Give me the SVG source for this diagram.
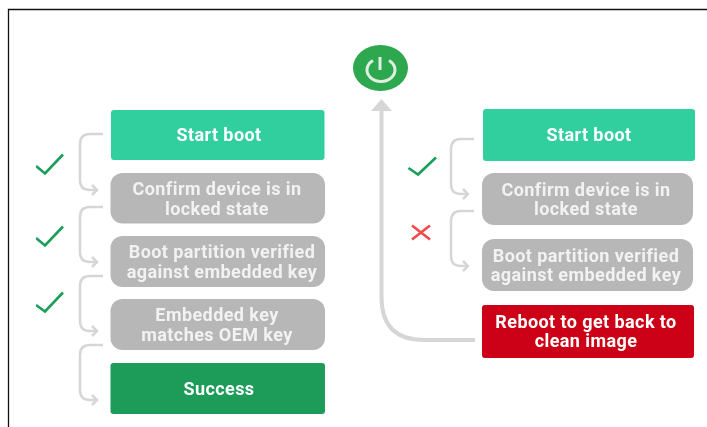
<svg xmlns="http://www.w3.org/2000/svg" width="707" height="427" viewBox="0 0 707 427">
<style>
text{font-family:Roboto,"Liberation Sans",sans-serif;font-weight:700;font-size:18px;letter-spacing:.42px;fill:#fff;text-anchor:middle}
.lt{fill:#f2f2f2}
.c{fill:none;stroke:#d6d6d6;stroke-width:2.5}
.ck{fill:none;stroke:#1b9e5a;stroke-width:2.6}
.g{fill:#b7b7b7}
</style>
<defs>
<marker id="a" markerUnits="userSpaceOnUse" markerWidth="10" markerHeight="12" refX="8" refY="6" orient="auto"><path d="M3 1L8 6L3 11" fill="none" stroke="#d6d6d6" stroke-width="2.500"/></marker>
<filter id="b" x="0" y="0" width="100%" height="100%"><feGaussianBlur stdDeviation="0.45"/></filter>
</defs>
<rect width="707" height="427" fill="#fff"/>
<path d="M8.500 427V9.500H707" fill="none" stroke="#111" stroke-width="1.300"/>
<g filter="url(#b)">
<g id="connectors">
<path class="c" marker-end="url(#a)" d="M103 134H90Q80 134 80 144V180Q80 190 90 190H97"/>
<path class="c" marker-end="url(#a)" d="M103 207H90Q80 207 80 217V252Q80 262 90 262H97"/>
<path class="c" marker-end="url(#a)" d="M103 276H90Q80 276 80 286V321Q80 331 90 331H97"/>
<path class="c" marker-end="url(#a)" d="M103 345H90Q80 345 80 355V390Q80 400 90 400H97"/>
<path class="c" marker-end="url(#a)" d="M474 139H461Q451 139 451 149V184Q451 194 461 194H468"/>
<path class="c" marker-end="url(#a)" d="M474 211H461Q451 211 451 221V256Q451 266 461 266H468"/>
<path d="M475 340H424Q381.500 340 381.500 297V110" fill="none" stroke="#d6d6d6" stroke-width="4"/>
<path d="M371 111L381.500 99L392 111Z" fill="#d6d6d6"/>
</g>
<g id="power">
<ellipse cx="380.500" cy="68" rx="27.500" ry="23" fill="#2fa84f"/>
<path d="M373 60.500A14 11.500 0 1 0 389 60.500" fill="none" stroke="#dff0e2" stroke-width="3"/>
<path d="M380 57V70" fill="none" stroke="#dff0e2" stroke-width="3"/>
</g>
<g id="check-l1"><path class="ck" d="M36 166L45 173.500L63 154.500"/></g>
<g id="check-l2"><path class="ck" d="M36 238L45 245.500L63 226.500"/></g>
<g id="check-l3"><path class="ck" d="M36 305L45 311.500L63 292.500"/></g>
<g id="check-r1"><path class="ck" d="M408.500 168L418 174.500L436 157.500"/></g>
<g id="cross-r"><path d="M412 225.500L430 239.500M430 225.500L412 239.500" fill="none" stroke="#f04a4a" stroke-width="2.600"/></g>
<g id="l-start"><rect x="111" y="110" width="213.500" height="50" rx="3" fill="#33cf9e"/><text x="219" y="141">Start boot</text></g>
<g id="l-confirm"><rect x="110.500" y="173" width="214.500" height="50.500" rx="12" class="g"/><text class="lt" x="217" y="195">Confirm device is in</text><text class="lt" x="217" y="214.500">locked state</text></g>
<g id="l-partition"><rect x="110.500" y="236" width="214.500" height="51" rx="12" class="g"/><text class="lt" x="222" y="258">Boot partition verified</text><text class="lt" x="222" y="278">against embedded key</text></g>
<g id="l-embedded"><rect x="110.500" y="299" width="214.500" height="51" rx="12" class="g"/><text class="lt" x="217" y="321">Embedded key</text><text class="lt" x="217" y="341">matches OEM key</text></g>
<g id="l-success"><rect x="110.500" y="363" width="214.500" height="51" rx="3" fill="#1a9c58"/><text x="219" y="395">Success</text></g>
<g id="r-start"><rect x="483" y="109" width="212" height="52" rx="3" fill="#33cf9e"/><text x="589" y="141">Start boot</text></g>
<g id="r-confirm"><rect x="482" y="173" width="211" height="52" rx="12" class="g"/><text class="lt" x="586" y="196">Confirm device is in</text><text class="lt" x="586" y="215">locked state</text></g>
<g id="r-partition"><rect x="482" y="239" width="211" height="52" rx="12" class="g"/><text class="lt" x="586" y="262">Boot partition verified</text><text class="lt" x="586" y="281">against embedded key</text></g>
<g id="r-reboot"><rect x="482" y="305" width="212" height="53" rx="3" fill="#cc0612"/><text x="586" y="328">Reboot to get back to</text><text x="586" y="347">clean image</text></g>
</g>
</svg>
